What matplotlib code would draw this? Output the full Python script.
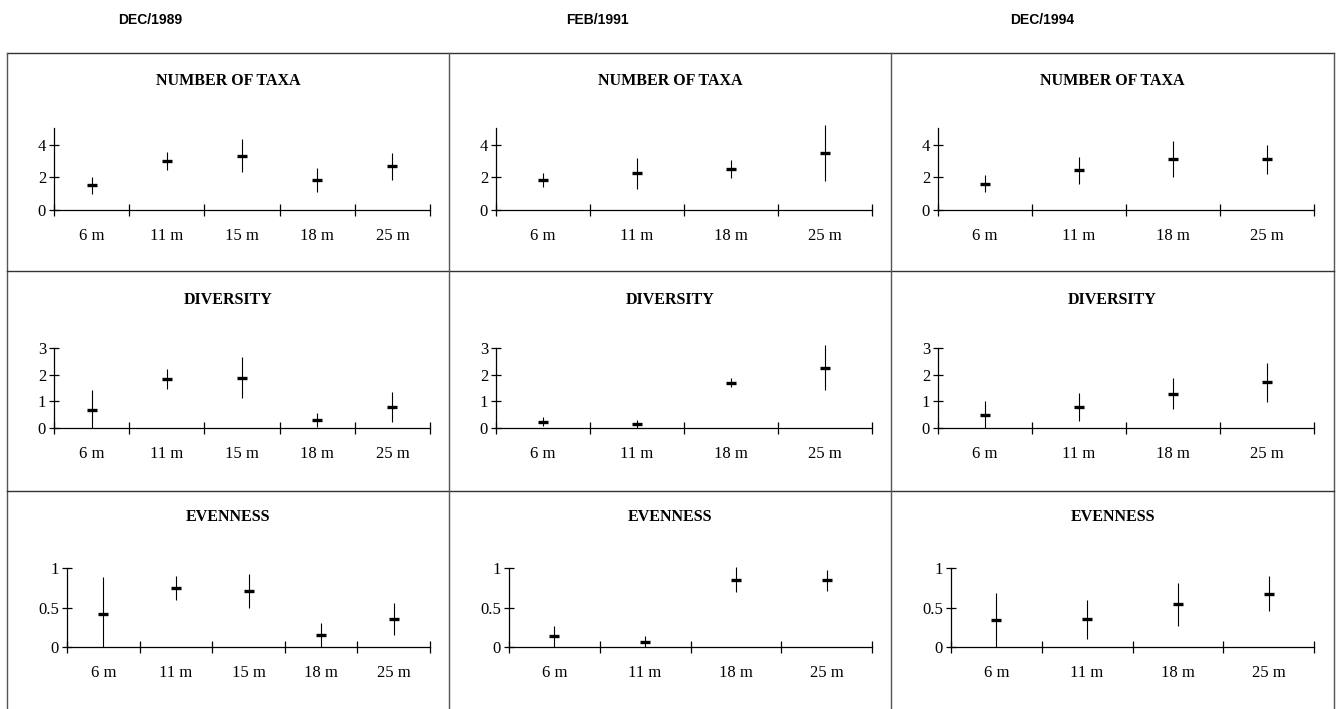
import matplotlib
matplotlib.use("Agg")
import matplotlib.pyplot as plt
from matplotlib.lines import Line2D

# ---------------- data ----------------
periods = ["DEC/1989", "FEB/1991", "DEC/1994"]
metrics = ["NUMBER OF TAXA", "DIVERSITY", "EVENNESS"]

depths_1989 = ["6 m", "11 m", "15 m", "18 m", "25 m"]
depths_1991 = ["6 m", "11 m", "18 m", "25 m"]
depths_1994 = ["6 m", "11 m", "18 m", "25 m"]

taxa_mean_1989 = [1.50, 3.00, 3.33, 1.85, 2.67]
taxa_sd_1989 = [0.55, 0.53, 1.03, 0.75, 0.82]
div_mean_1989 = [0.68, 1.83, 1.88, 0.31, 0.78]
div_sd_1989 = [0.75, 0.36, 0.76, 0.27, 0.56]
even_mean_1989 = [0.42, 0.75, 0.71, 0.16, 0.36]
even_sd_1989 = [0.46, 0.15, 0.21, 0.15, 0.20]

taxa_mean_1991 = [1.83, 2.26, 2.50, 3.49]
taxa_sd_1991 = [0.43, 0.95, 0.54, 1.70]
div_mean_1991 = [0.25, 0.16, 1.70, 2.26]
div_sd_1991 = [0.17, 0.16, 0.18, 0.83]
even_mean_1991 = [0.14, 0.07, 0.85, 0.84]
even_sd_1991 = [0.13, 0.07, 0.16, 0.135]

taxa_mean_1994 = [1.62, 2.42, 3.12, 3.10]
taxa_sd_1994 = [0.50, 0.80, 1.08, 0.88]
div_mean_1994 = [0.51, 0.79, 1.28, 1.71]
div_sd_1994 = [0.50, 0.53, 0.58, 0.72]
even_mean_1994 = [0.34, 0.35, 0.54, 0.67]
even_sd_1994 = [0.34, 0.245, 0.27, 0.22]

taxa_ticks = [0, 2, 4]
taxa_ticklabels = ["0", "2", "4"]
div_ticks = [0, 1, 2, 3]
div_ticklabels = ["0", "1", "2", "3"]
even_ticks = [0, 0.5, 1]
even_ticklabels = ["0", "0.5", "1"]

# ---------------- figure ----------------
W, H = 1337, 709
fig = plt.figure(figsize=(W / 100, H / 100), dpi=100)
fig.patch.set_facecolor("white")

SERIF = ["Liberation Serif", "DejaVu Serif"]
SANS = ["Liberation Sans", "DejaVu Sans"]

col_left = [7, 449, 891]
col_right = [449, 891, 1334]
row_top = [53, 271, 491]
row_bot = [271, 491, 709]

# frame lines
def fline(x0, y0, x1, y1, color="#333333", lw=1.0):
    fig.add_artist(Line2D([x0 / W, x1 / W], [1 - y0 / H, 1 - y1 / H],
                          color=color, lw=lw, transform=fig.transFigure))

fline(7, 53, 1334, 53)
fline(7, 53, 7, 709, color="#555555")
fline(1334, 53, 1334, 709, color="#555555")
for y in [271, 491]:
    fline(7, y, 1334, y)
for x in [449, 891]:
    fline(x, 53, x, 709, color="#555555")

# column headers
header_x = [150, 597, 1042]
for hx, p in zip(header_x, periods):
    fig.text(hx / W, 1 - 20 / H, p, ha="center", va="center",
             family=SANS, fontweight="bold", fontsize=10)

metric_cfg = [
    dict(spine=5, ylim=5.35, ticks=taxa_ticks, labels=taxa_ticklabels,
         y0=157, ppu=16.34, loff=47),
    dict(spine=3, ylim=3.3, ticks=div_ticks, labels=div_ticklabels,
         y0=157.3, ppu=26.87, loff=47),
    dict(spine=1, ylim=1.1, ticks=even_ticks, labels=even_ticklabels,
         y0=156.3, ppu=79.6, loff=60),
]
title_off = [28, 29, 26]

data = [
    [(depths_1989, taxa_mean_1989, taxa_sd_1989),
     (depths_1989, div_mean_1989, div_sd_1989),
     (depths_1989, even_mean_1989, even_sd_1989)],
    [(depths_1991, taxa_mean_1991, taxa_sd_1991),
     (depths_1991, div_mean_1991, div_sd_1991),
     (depths_1991, even_mean_1991, even_sd_1991)],
    [(depths_1994, taxa_mean_1994, taxa_sd_1994),
     (depths_1994, div_mean_1994, div_sd_1994),
     (depths_1994, even_mean_1994, even_sd_1994)],
]

for c in range(3):
    for r in range(3):
        cfg = metric_cfg[r]
        depths, means, sds = data[c][r]
        n = len(depths)
        left = col_left[c] + cfg["loff"]
        right = col_left[c] + 423
        y0px = row_top[r] + cfg["y0"]
        toppx = y0px - cfg["ylim"] * cfg["ppu"]
        ax = fig.add_axes([left / W, 1 - y0px / H, (right - left) / W,
                           (y0px - toppx) / H])
        ax.set_facecolor("none")
        xs = list(range(n))
        ax.errorbar(xs, means, yerr=sds, fmt="none", ecolor="black",
                    elinewidth=0.8, capsize=0)
        ax.plot(xs, means, linestyle="none", marker="_", markersize=7,
                markeredgewidth=2.4, color="black", clip_on=False)
        ax.set_xlim(-0.5, n - 0.5)
        ax.set_ylim(0, cfg["ylim"])
        for s in ["top", "right"]:
            ax.spines[s].set_visible(False)
        ax.spines["left"].set_bounds(0, cfg["spine"])
        ax.spines["left"].set_linewidth(0.9)
        ax.spines["bottom"].set_linewidth(0.9)
        ax.set_yticks(cfg["ticks"])
        ax.set_yticklabels(cfg["labels"], family=SERIF, fontsize=12)
        ax.tick_params(axis="y", direction="inout", length=7.5, width=0.9,
                       pad=2)
        ax.set_xticks([i - 0.5 for i in range(n + 1)])
        ax.set_xticklabels([])
        ax.set_xticks(xs, minor=True)
        ax.set_xticklabels(depths, minor=True, family=SERIF, fontsize=12)
        ax.tick_params(axis="x", which="major", direction="inout", length=8,
                       width=0.9)
        ax.tick_params(axis="x", which="minor", length=0, pad=13)
        fig.text(((col_left[c] + col_right[c]) / 2) / W,
                 1 - (row_top[r] + title_off[r]) / H, metrics[r],
                 ha="center", va="center", family=SERIF, fontweight="bold",
                 fontsize=11.5)

fig.savefig("out.png", dpi=100)
